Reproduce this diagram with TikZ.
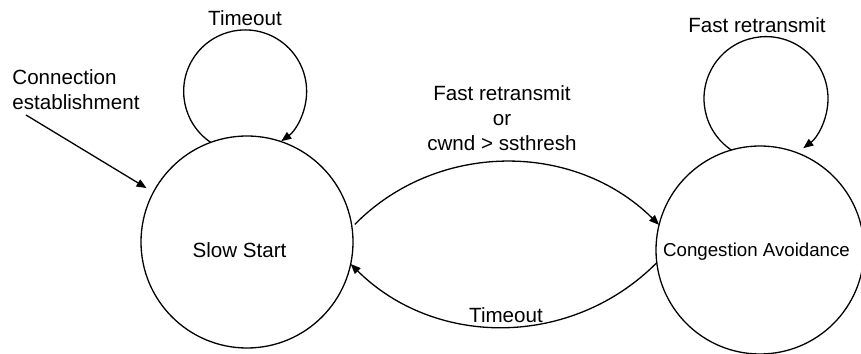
\documentclass[tikz,border=0pt]{standalone}
\usepackage{fontspec}
\setmainfont{Liberation Sans}
\usetikzlibrary{arrows.meta}
\begin{document}
\begin{tikzpicture}[x=0.5pt,y=0.5pt,
  state/.style={draw, circle, line width=0.65pt, inner sep=0pt, outer sep=0pt},
  arr/.style={line width=0.65pt, -{Triangle[length=5pt,width=4pt]}},
  lbl/.style={inner sep=0pt, font=\fontsize{10.3}{12.5}\selectfont},
  every node/.style={font=\fontsize{10.3}{12.5}\selectfont}]
\useasboundingbox (0,0) rectangle (861,353);
\node[state, minimum size=106pt,
  label={[lbl, xshift=-3.75pt, yshift=-4pt]center:Slow Start}] (ss) at (247,111) {};
\node[state, minimum size=104pt,
  label={[lbl, font=\fontsize{9.35}{11}\selectfont, xshift=-1.75pt, yshift=-1pt]center:Congestion Avoidance}] (ca) at (760,103) {};
% self loops
\draw[arr] (ss.110) arc[start angle=236, end angle=-54, radius=61.5];
\draw[arr] (ca.106) arc[start angle=236, end angle=-53, radius=62];
% transitions
\draw[arr, shorten <=2pt] (ss.8) to[bend left=45] (ca.166);
\draw[arr] (ca.187) to[bend left=45] (ss.-12);
% connection establishment
\coordinate (cstart) at (26,238);
\draw[arr, shorten >=4pt] (cstart) -- (ss.152);
% labels
\node[lbl] (tss) at (245,335) {Timeout};
\node[lbl] (tca) at (757,328) {Fast retransmit};
\node[lbl, align=left, anchor=west] (conn) at (12,263) {Connection\\establishment};
\node[lbl, align=center] (fr) at (502,235) {Fast retransmit\\or\\cwnd > ssthresh};
\node[lbl] (tb) at (506,38) {Timeout};
\end{tikzpicture}
\end{document}
